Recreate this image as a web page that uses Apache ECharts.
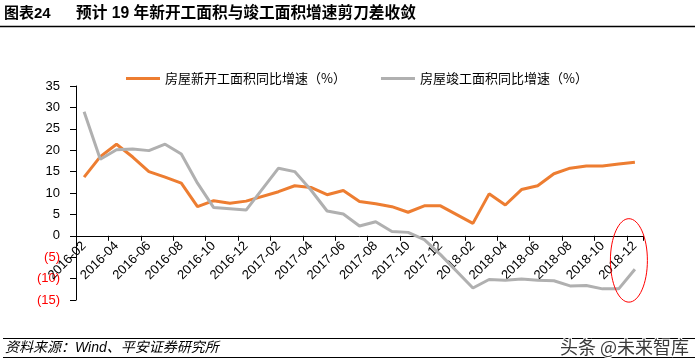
<!DOCTYPE html>
<html>
<head>
<meta charset="utf-8">
<script src="https://cdn.jsdelivr.net/npm/echarts@6/dist/echarts.min.js"></script>
<style>
html,body{margin:0;padding:0;background:#fff;}
#c{width:695px;height:364px;}
</style>
</head>
<body>
<div id="c"></div>
<script>
// Categories (monthly, January has no separate release)
var categories = [
 '2016-02','2016-03','2016-04','2016-05','2016-06','2016-07','2016-08','2016-09','2016-10','2016-11','2016-12',
 '2017-01','2017-02','2017-03','2017-04','2017-05','2017-06','2017-07','2017-08','2017-09','2017-10','2017-11','2017-12',
 '2018-01','2018-02','2018-03','2018-04','2018-05','2018-06','2018-07','2018-08','2018-09','2018-10','2018-11','2018-12'
];
var newStartGrowth = [
 13.7, 18.5, 21.4, 18.4, 15.0, 13.7, 12.3, 6.8, 8.2, 7.6, 8.1,
 null, 10.3, 11.7, 11.3, 9.6, 10.6, 8.0, 7.5, 6.8, 5.5, 7.0, 7.0,
 null, 2.9, 9.8, 7.2, 10.8, 11.7, 14.5, 15.8, 16.3, 16.3, 16.8, 17.2
];
var completionGrowth = [
 29.0, 17.9, 20.1, 20.3, 19.9, 21.4, 19.1, 12.3, 6.6, 6.3, 6.0,
 null, 15.8, 15.0, 10.7, 5.8, 5.1, 2.3, 3.3, 1.0, 0.8, -0.9, -4.4,
 null, -12.2, -10.2, -10.4, -10.1, -10.4, -10.5, -11.7, -11.6, -12.4, -12.4, -7.8
];
var seriesNames = ['房屋新开工面积同比增速（%）', '房屋竣工面积同比增速（%）'];
var titleLabel = '图表24';
var titleText = '预计 19 年新开工面积与竣工面积增速剪刀差收敛';
var sourceText = '资料来源：Wind、平安证券研究所';
var watermarkText = '头条 @未来智库';
var highlightCategory = '2018-12';

var FONT = "'Liberation Sans', 'Noto Sans CJK SC', sans-serif";
var CJK = "'Noto Sans CJK SC', 'Liberation Sans', sans-serif";
var chart = echarts.init(document.getElementById('c'), null, {renderer: 'canvas'});

var GRID_TOP = 86, GRID_BOTTOM = 64;
var option = {
  animation: false,
  backgroundColor: '#fff',
  textStyle: {fontFamily: FONT},
  grid: {left: 76, right: 52, top: GRID_TOP, bottom: GRID_BOTTOM, containLabel: false},
  legend: {
    data: seriesNames,
    left: 121, top: 67,
    icon: 'rect', itemWidth: 34, itemHeight: 3, itemGap: 35,
    textStyle: {fontSize: 13, color: '#000', fontFamily: CJK}
  },
  xAxis: {
    type: 'category',
    data: categories,
    boundaryGap: true,
    offset: 0,
    axisLine: {onZero: false, lineStyle: {color: '#000', width: 1}},
    axisTick: {show: true, interval: 1, length: 5, lineStyle: {color: '#000'}},
    axisLabel: {interval: 1, rotate: 45, fontSize: 13, color: '#000', margin: 8, fontFamily: FONT},
    splitLine: {show: false}
  },
  yAxis: {
    type: 'value',
    min: -15, max: 35, interval: 5,
    axisLine: {show: true, lineStyle: {color: '#000', width: 1}},
    axisTick: {show: true, length: 6, lineStyle: {color: '#000'}},
    splitLine: {show: false},
    axisLabel: {
      fontSize: 13, margin: 16, fontFamily: FONT,
      formatter: function (v) { return v < 0 ? '(' + (-v) + ')' : String(v); },
      color: function (v) { return Number(v) < 0 ? '#FF0000' : '#000'; }
    }
  },
  series: [
    {name: seriesNames[0], type: 'line', data: newStartGrowth, connectNulls: true,
     showSymbol: false, symbol: 'none', lineStyle: {color: '#ED7D31', width: 3}, itemStyle: {color: '#ED7D31'}},
    {name: seriesNames[1], type: 'line', data: completionGrowth, connectNulls: true,
     showSymbol: false, symbol: 'none', lineStyle: {color: '#B0B0B0', width: 3}, itemStyle: {color: '#B0B0B0'}}
  ]
};
chart.setOption(option);

// place the category axis on the zero line
var zeroY = chart.convertToPixel({yAxisIndex: 0}, 0);
var bottomY = chart.convertToPixel({yAxisIndex: 0}, -15);
chart.setOption({xAxis: {offset: -(bottomY - zeroY)}});

var cx = chart.convertToPixel({xAxisIndex: 0}, highlightCategory);
var ellipseTop = chart.convertToPixel({yAxisIndex: 0}, 4);
var ellipseBottom = chart.convertToPixel({yAxisIndex: 0}, -15.5);

chart.setOption({
  graphic: [
    {type: 'text', left: 4, top: 6, style: {text: titleLabel, font: "bold 15px " + FONT, fill: '#000'}},
    {type: 'text', left: 76, top: 6, style: {text: titleText, font: "bold 15.7px " + FONT, fill: '#000'}},
    {type: 'line', shape: {x1: 0, y1: 26.5, x2: 695, y2: 26.5}, style: {stroke: '#000', lineWidth: 1.5}},
    {type: 'line', shape: {x1: 3, y1: 338.5, x2: 695, y2: 338.5}, style: {stroke: '#000', lineWidth: 1}},
    {type: 'line', shape: {x1: 3, y1: 357.5, x2: 695, y2: 357.5}, style: {stroke: '#000', lineWidth: 1}},
    {type: 'text', left: 5, top: 341, style: {text: sourceText, font: "italic 14px " + FONT, fill: '#000'}},
    {type: 'text', left: 559, top: 337, z: 100, style: {text: watermarkText, font: "18px 'Noto Sans CJK SC', sans-serif", fill: '#3a3a3a', stroke: '#fff', lineWidth: 2}},
    {type: 'ellipse', shape: {cx: cx - 6, cy: (ellipseTop + ellipseBottom) / 2, rx: 18.5, ry: (ellipseBottom - ellipseTop) / 2},
     style: {fill: 'none', stroke: '#FF0000', lineWidth: 1}, z: 100}
  ]
});
</script>
</body>
</html>
